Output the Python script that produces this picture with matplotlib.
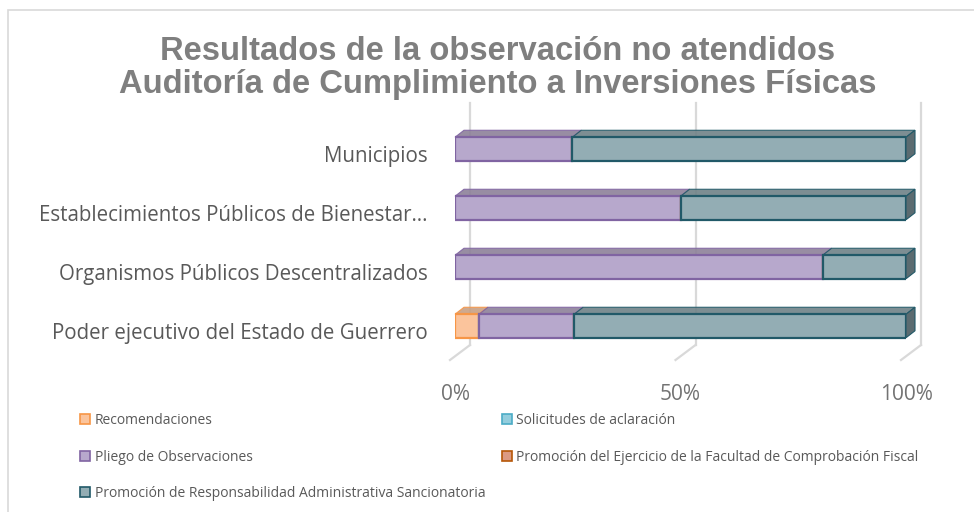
import matplotlib
matplotlib.use('Agg')
import matplotlib.pyplot as plt
from matplotlib.patches import Polygon, Patch, Rectangle
import numpy as np

# Data (percent of each entity, 100% stacked)
categories = ['Poder ejecutivo del Estado de Guerrero',
              'Organismos Públicos Descentralizados',
              'Establecimientos Públicos de Bienestar…',
              'Municipios']
series_names = ['Recomendaciones',
                'Solicitudes de aclaración',
                'Pliego de Observaciones',
                'Promoción del Ejercicio de la Facultad de Comprobación Fiscal',
                'Promoción de Responsabilidad Administrativa Sancionatoria']
recomendaciones = [5.3, 0, 0, 0]
solicitudes = [0, 0, 0, 0]
pliego = [21.1, 81.5, 50.0, 26.0]
promocion_fiscal = [0, 0, 0, 0]
responsabilidad = [73.6, 18.5, 50.0, 74.0]
xticks = [0, 50, 100]
xtick_labels = ['0%', '50%', '100%']

title = 'Resultados de la observación no atendidos\nAuditoría de Cumplimiento a Inversiones Físicas'

# Styles: (front face, edge, top face)
styles = [('#FBC49C', '#F79646', '#C9A083'),
          ('#93CDDD', '#4BACC6', '#7FA9B4'),
          ('#B7A8CC', '#8064A2', '#8D8199'),
          ('#DC9A82', '#B65708', '#A98070'),
          ('#93ADB4', '#215968', '#6F8287')]

W, H = 974, 512
PX_X = 100 / 451.0   # percent per pixel
PX_Y = 1 / 59.0      # category units per pixel

fig = plt.figure(figsize=(W / 100, H / 100), dpi=100)
fig.patch.set_facecolor('white')
fig.add_artist(Rectangle((8 / W, -0.1), 1.1, 1 - 10 / H + 0.1, transform=fig.transFigure,
                         fill=False, edgecolor='#D9D9D9', lw=1.2))

ax = fig.add_axes([455 / W, 1 - 362 / H, 451 / W, (362 - 103) / H])
ax.set_xlim(0, 100)
ax.set_ylim(-0.610, 3.780)
for s in ax.spines.values():
    s.set_visible(False)
ax.set_facecolor('none')

# back wall gridlines + floor diagonals
wall_dx, floor_dx = 15 * PX_X, -5 * PX_X
wall_bottom, floor_y = -19 * PX_Y, -34 * PX_Y
for v in xticks:
    ax.plot([v + wall_dx, v + wall_dx], [wall_bottom, 3.78], color='#D9D9D9', lw=1.6,
            clip_on=False, zorder=1)
    ax.plot([v + wall_dx, v + floor_dx], [wall_bottom, floor_y], color='#D9D9D9', lw=1.6,
            clip_on=False, zorder=1)

y = np.arange(len(categories))
bar_h = 23.5 * PX_Y
dx, dy = 9 * PX_X, 7 * PX_Y

data = [recomendaciones, solicitudes, pliego, promocion_fiscal, responsabilidad]
left = np.zeros(len(categories))
for vals, (face, edge, top) in zip(data, styles):
    vals = np.array(vals, dtype=float)
    for i in range(len(categories)):
        if vals[i] <= 0:
            continue
        l, r = left[i], left[i] + vals[i]
        t = y[i] + bar_h / 2
        ax.add_patch(Polygon([(l, t), (r, t), (r + dx, t + dy), (l + dx, t + dy)],
                             closed=True, facecolor=top, edgecolor=edge, lw=0.8,
                             alpha=0.9, clip_on=False, zorder=3))
        if r >= 99.9:
            b = y[i] - bar_h / 2
            ax.add_patch(Polygon([(r, b), (r, t), (r + dx, t + dy), (r + dx, b + dy)],
                                 closed=True, facecolor='#5B6B70', edgecolor=edge, lw=0.8,
                                 clip_on=False, zorder=3))
    ax.barh(y, vals, left=left, height=bar_h, color=face, edgecolor=edge, lw=1.6, zorder=4)
    left += vals

ax.set_xticks(xticks, xtick_labels)
ax.set_yticks(y - 5 * PX_Y, categories)
ax.tick_params(axis='x', length=0, pad=16, labelsize=15, labelcolor='#737373')
ax.tick_params(axis='y', length=0, pad=19.5, labelsize=14.8, labelcolor='#595959')
for lab in ax.get_xticklabels() + ax.get_yticklabels():
    lab.set_fontfamily('Open Sans')

fig.text(0.511, 1 - 68 / H, title, ha='center', va='center', fontsize=23.6,
         fontweight='bold', color='#7F7F7F', family='Liberation Sans', linespacing=1.08)

handles = [Patch(facecolor=f, edgecolor=e, lw=1.2) for f, e, _ in styles]
order = [0, 2, 4, 1, 3]
fig.legend([handles[k] for k in order], [series_names[k] for k in order],
           loc='upper left', bbox_to_anchor=(80 / W, 1 - 413 / H), ncol=2,
           frameon=False, borderpad=0, borderaxespad=0, handlelength=0.75,
           handleheight=0.75, handletextpad=0.3, labelspacing=1.55, columnspacing=1.2,
           prop={'family': 'Open Sans', 'size': 10}, labelcolor='#595959')

fig.savefig('out.png', dpi=100)
